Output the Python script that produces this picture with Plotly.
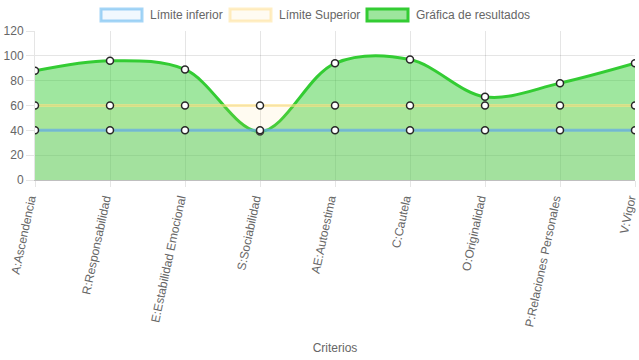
import plotly.graph_objects as go

categorias = ["A:Ascendencia", "R:Responsabilidad", "E:Estabilidad Emocional",
              "S:Sociabilidad", "AE:Autoestima", "C:Cautela", "O:Originalidad",
              "P:Relaciones Personales", "V:Vigor"]
limite_inferior = [40, 40, 40, 40, 40, 40, 40, 40, 40]
limite_superior = [60, 60, 60, 60, 60, 60, 60, 60, 60]
resultados = [88, 96, 89, 39, 94, 97, 67, 78, 94]
y_ticks = [0, 20, 40, 60, 80, 100, 120]

marker = dict(size=7, color="white", line=dict(color="rgb(40,40,40)", width=1.5))

fig = go.Figure()
fig.add_trace(go.Scatter(
    x=categorias, y=resultados, name="Gráfica de resultados", mode="lines+markers",
    line=dict(color="rgb(51,204,51)", width=3, shape="spline", smoothing=1.0),
    fill="tozeroy", fillcolor="rgba(55,205,55,0.48)", marker=marker, showlegend=False,
))
fig.add_trace(go.Scatter(
    x=categorias, y=limite_superior, name="Límite Superior", mode="lines+markers",
    line=dict(color="rgba(255,225,130,0.6)", width=3),
    fill="tozeroy", fillcolor="rgba(255,220,120,0.1)", marker=marker, showlegend=False,
))
fig.add_trace(go.Scatter(
    x=categorias, y=limite_inferior, name="Límite inferior", mode="lines+markers",
    line=dict(color="rgba(100,170,235,0.7)", width=3),
    fill="tozeroy", fillcolor="rgba(90,170,235,0.06)", marker=marker, showlegend=False,
))

# Chart.js-style legend boxes drawn in paper coordinates
PL, PW, PB, PH = 35, 600, 180, 149
def px(x):
    return (x - PL) / PW
def py(y):
    return (PB - y) / PH

legend_items = [
    ("Límite inferior", "rgba(54,162,235,0.45)", "rgba(54,162,235,0.07)", 101),
    ("Límite Superior", "rgba(255,205,86,0.35)", "rgba(255,205,86,0.08)", 230),
    ("Gráfica de resultados", "rgb(51,204,51)", "rgba(60,205,60,0.5)", 367),
]
for nm, lc, fc, x0 in legend_items:
    fig.add_shape(type="rect", xref="paper", yref="paper",
                  x0=px(x0), x1=px(x0 + 41), y0=py(21), y1=py(9),
                  line=dict(color=lc, width=3), fillcolor=fc, layer="above")
    fig.add_annotation(xref="paper", yref="paper", x=px(x0 + 47), y=py(15),
                       xanchor="left", yanchor="middle", text=nm, showarrow=False,
                       font=dict(size=12, color="#666"))

fig.update_layout(
    width=639, height=360,
    margin=dict(l=35, r=4, t=31, b=180, autoexpand=False),
    paper_bgcolor="white", plot_bgcolor="white",
    font=dict(family="Liberation Sans, Arial, sans-serif", size=12, color="#666"),
    showlegend=False,
    xaxis=dict(
        type="category", range=[0, 8], tickangle=-78, ticklabelshift=-5,
        showgrid=True, gridcolor="rgba(0,0,0,0.1)",
        ticks="outside", ticklen=6, tickcolor="rgba(0,0,0,0.1)",
        showline=True, linecolor="rgba(0,0,0,0.25)", zeroline=False,
        title=dict(text="Criterios", standoff=16, font=dict(size=12, color="#666")),
        automargin=False,
    ),
    yaxis=dict(
        range=[0, 120], tickvals=y_ticks,
        showgrid=True, gridcolor="rgba(0,0,0,0.1)",
        ticks="outside", ticklen=8, tickcolor="rgba(0,0,0,0.1)",
        showline=True, linecolor="rgba(0,0,0,0.1)", zeroline=False,
        automargin=False,
    ),
)
fig.write_html("out.html", config={"displayModeBar": False},
               post_script="document.body.style.margin='0';")
